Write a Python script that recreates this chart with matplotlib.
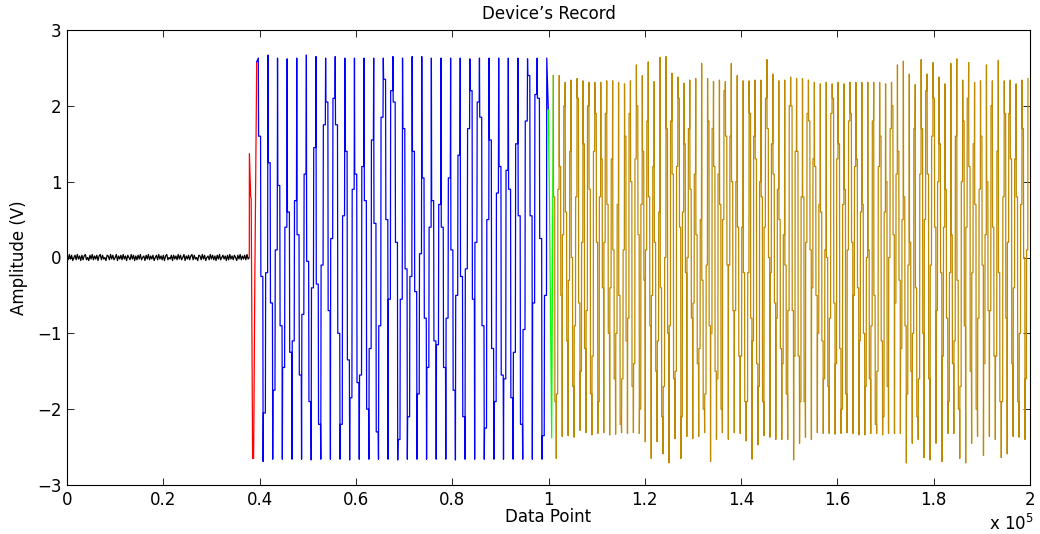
import numpy as np
import matplotlib
matplotlib.use("Agg")
import matplotlib.pyplot as plt
from matplotlib.ticker import FuncFormatter

plt.rcParams['font.family'] = ['DejaVu Sans']
plt.rcParams['font.size'] = 12

# ---- data ----
# quiet part before the device starts (sample index 0 .. 37860)
noise_end = 37860
noise_vals = [0.02, -0.03, 0.04, -0.02, 0.03, -0.04, 0.00, 0.03, -0.03, 0.04,
              -0.02, 0.02, -0.04, 0.03, -0.03, 0.02, 0.04, -0.03, 0.00, -0.04,
              0.03, -0.02, 0.04, -0.03, 0.02, -0.02, 0.03, -0.04, 0.02, 0.04,
              -0.03, 0.03, -0.02, 0.00, -0.04, 0.03, 0.02, -0.03, 0.04, -0.02,
              0.03, -0.03, 0.00, 0.04, -0.04, 0.02, -0.02, 0.03, -0.03, 0.04,
              -0.02, 0.02, -0.04, 0.03, 0.00, -0.03, 0.04, -0.02, 0.03, -0.04,
              0.02, -0.03, 0.03, -0.02, 0.04, -0.03, 0.00, 0.02, -0.04, 0.03,
              -0.02, 0.04, -0.03, 0.02, -0.02, 0.03, -0.04, 0.00, 0.03, -0.03,
              0.04, -0.02, 0.02, -0.03, 0.03, -0.04, 0.02, 0.04, -0.03, 0.00,
              -0.02, 0.03, -0.04, 0.03, -0.02, 0.02, -0.03, 0.04, -0.02, 0.03,
              -0.03, 0.00, 0.04, -0.04, 0.02, -0.02, 0.03, -0.03, 0.02, 0.04,
              -0.03, 0.03, -0.02, 0.00, -0.04, 0.03, 0.02, -0.03, 0.04, -0.02,
              0.03, -0.04, 0.00, 0.02, -0.03, 0.04, -0.02, 0.03, -0.03, 0.02,
              -0.04, 0.03, -0.02, 0.04, -0.03, 0.00, 0.03, -0.02, 0.02, -0.04,
              0.03, -0.03, 0.04, -0.02, 0.02, -0.03, 0.03, 0.00, -0.04, 0.03,
              -0.02, 0.04, -0.03, 0.02, -0.02, 0.03, -0.03, 0.04, -0.02, 0.00]

# start-up transient
red_x = [37860, 37880, 38150, 38250, 38550, 38750, 38850, 39000, 39400]
red_y = [0.0, 1.37, 0.80, 0.78, -2.65, -2.65, -1.85, -0.34, 2.58]

# first tone: 31 peaks, 30 troughs, two kinks per stroke
blue_start = 39730
blue_period = 1997
blue_peaks = [2.63, 2.67, 2.63, 2.62, 2.63, 2.67, 2.65, 2.63, 2.65, 2.63,
              2.63, 2.63, 2.63, 2.63, 2.65, 2.63, 2.65, 2.65, 2.63, 2.63,
              2.63, 2.63, 2.62, 2.63, 2.63, 2.63, 2.63, 2.63, 2.62, 2.63, 2.63]
blue_troughs = [-2.69, -2.66, -2.66, -2.66, -2.66, -2.67, -2.66, -2.66, -2.66, -2.67,
                -2.66, -2.66, -2.66, -2.66, -2.67, -2.66, -2.66, -2.66, -2.66, -2.66,
                -2.67, -2.66, -2.66, -2.66, -2.66, -2.66, -2.66, -2.66, -2.66, -2.66]
blue_kinks_down = [1.6, 1.25, 0.95, 0.6, 0.3, -0.05, -0.35, -0.7, -1.0, -1.35,
                   -1.65, -2.0, -2.3, 2.35, 2.05, 1.7, 1.4, 1.05, 0.75, 0.4,
                   0.1, -0.25, -0.55, -0.9, -1.2, -1.55, -1.85, -2.2, 2.4, 2.1]
blue_kinks_down2 = [-0.25, -0.6, -0.9, -1.25, -1.55, -1.9, -2.2, 2.05, 1.75, 1.4,
                    1.1, 0.75, 0.45, 0.5, 0.2, -0.15, -0.45, -0.8, -1.1, -1.45,
                    -1.75, -2.1, 2.2, 1.85, 1.55, 1.2, 0.9, 0.55, 0.55, 0.25]
blue_kinks_up = [-2.05, -1.75, -1.45, -1.1, -0.75, -0.4, -0.1, 0.25, 0.55, 0.9,
                 1.2, 1.55, 1.85, 2.2, -2.4, -2.1, -1.8, -1.45, -1.15, -0.8,
                 -0.5, -0.15, 0.2, 0.5, 0.85, 1.15, 1.5, 1.8, 2.15, -2.35]
blue_kinks_up2 = [-0.2, 0.1, 0.4, 0.75, 1.1, 1.45, 1.75, 2.1, -2.2, -1.85,
                  -1.55, -1.2, -0.9, -0.55, -0.55, -0.25, 0.05, 0.4, 0.7, 1.05,
                  1.35, 1.7, 2.05, -2.25, -1.9, -1.6, -1.25, -0.95, -0.6, -0.5]

# switch-over
green_x = [99960, 100200, 100660, 101000]
green_y = [1.95, 0.72, -2.38, 2.40]

# second tone: 81 highs, 80 lows
gold_start = 101000
gold_end = 199580
gold_highs = [2.40,
              2.40, 2.31, 2.34, 2.36, 2.33, 2.31, 2.31, 2.31, 2.33, 2.33,
              2.31, 2.29, 2.33, 2.54, 2.40, 2.58, 2.32, 2.64, 2.65, 2.43,
              2.38, 2.30, 2.34, 2.36, 2.56, 2.36, 2.32, 2.34, 2.32, 2.56,
              2.40, 2.33, 2.33, 2.34, 2.34, 2.61, 2.42, 2.33, 2.34,
              2.38, 2.36, 2.36, 2.34, 2.31, 2.29, 2.31, 2.29, 2.31, 2.29,
              2.31, 2.31, 2.31, 2.31, 2.31, 2.31, 2.29, 2.31, 2.54, 2.59,
              2.42, 2.28, 2.61, 2.42, 2.57, 2.38, 2.29, 2.56, 2.62, 2.34,
              2.57, 2.31, 2.33, 2.54, 2.33, 2.60, 2.33, 2.34, 2.29, 2.34, 2.36]
gold_lows = [-2.65, -2.36, -2.35, -2.37, -2.28, -2.31, -2.34, -2.32, -2.31, -2.34,
             -2.33, -2.31, -2.32, -2.31, -2.32, -2.43, -2.65, -2.43, -2.59, -2.71,
             -2.39, -2.65, -2.36, -2.39, -2.36, -2.31, -2.69, -2.40, -2.31, -2.40,
             -2.31, -2.32, -2.42, -2.66, -2.47, -2.35, -2.37, -2.40, -2.40, -2.40,
             -2.67, -2.45, -2.37, -2.40, -2.31, -2.32, -2.32, -2.33, -2.32, -2.31,
             -2.32, -2.34, -2.34, -2.32, -2.32, -2.34, -2.32, -2.32, -2.32, -2.71,
             -2.45, -2.40, -2.64, -2.67, -2.45, -2.69, -2.32, -2.32, -2.65, -2.71,
             -2.45, -2.36, -2.61, -2.36, -2.40, -2.64, -2.59, -2.36, -2.37, -2.40]
gold_kinks_down = [-1.9, 1.2, 0.6, 0.0, -0.6, -1.2, -1.8, 1.9, 1.3, 0.7,
                   0.1, -0.5, -1.1, -1.7, 2.0, 1.4, 0.8, 0.2, -0.4, -1.0,
                   -1.6, 2.1, 1.5, 0.9, 0.3, -0.3, -0.9, -1.5, -2.0, 1.6,
                   1.0, 0.4, -0.2, -0.8, -1.4, -1.9, 1.7, 1.1, 0.5, -0.1,
                   -0.7, -1.3, -1.9, 1.8, 1.2, 0.6, 0.0, -0.6, -1.2, -1.8,
                   1.9, 1.3, 0.7, 0.1, -0.5, -1.1, -1.7, 2.0, 1.4, 0.8,
                   0.2, -0.4, -1.0, -1.6, 2.1, 1.5, 0.9, 0.3, -0.3, -0.9,
                   -1.5, -2.0, 1.6, 1.0, 0.4, -0.2, -0.8, -1.4, -1.9, 1.7]
gold_kinks_down2 = [0.8, -0.5, -1.1, -1.7, 2.1, 1.5, 0.9, 0.2, -0.4, -1.0,
                    -1.6, -2.2, 1.6, 1.0, 0.3, -0.3, -0.9, -1.5, -2.1, 1.7,
                    1.1, 0.4, -0.2, -0.8, -1.4, -2.0, 1.8, 1.2, 0.7, -0.1,
                    -0.7, -1.3, -1.9, 1.9, 1.3, 0.8, 0.0, -0.6, -1.2, -1.8,
                    2.0, 1.4, 0.8, 0.1, -0.5, -1.1, -1.7, 2.1, 1.5, 0.9,
                    0.2, -0.4, -1.0, -1.6, -2.2, 1.6, 1.0, 0.3, -0.3, -0.9,
                    -1.5, -2.1, 1.7, 1.1, 0.4, -0.2, -0.8, -1.4, -2.0, 1.8,
                    1.2, 0.7, -0.1, -0.7, -1.3, -1.9, 1.9, 1.3, 0.8, 0.0]
gold_kinks_up = [0.9, 0.3, -0.3, -0.9, -1.5, 2.0, 1.4, 0.8, 0.2, -0.4,
                 -1.0, -1.6, 1.9, 1.3, 0.7, 0.1, -0.5, -1.1, -1.7, 1.8,
                 1.2, 0.6, 0.0, -0.6, -1.2, -1.8, 1.7, 1.1, 0.5, -0.1,
                 -0.7, -1.3, -1.9, 1.6, 1.0, 0.4, -0.2, -0.8, -1.4, 2.0,
                 1.4, 0.8, 0.2, -0.4, -1.0, -1.6, 1.9, 1.3, 0.7, 0.1,
                 -0.5, -1.1, -1.7, 1.8, 1.2, 0.6, 0.0, -0.6, -1.2, -1.8,
                 1.7, 1.1, 0.5, -0.1, -0.7, -1.3, -1.9, 1.6, 1.0, 0.4,
                 -0.2, -0.8, -1.4, 2.0, 1.4, 0.8, 0.2, -0.4, -1.0, -1.6]
gold_kinks_up2 = [-1.8, 2.0, 1.4, 0.8, 0.2, -0.7, -1.3, -1.9, 1.9, 1.3,
                  0.7, 0.1, -0.8, -1.4, -2.0, 1.8, 1.2, 0.6, 0.0, -0.9,
                  -1.5, -2.1, 1.7, 1.1, 0.5, -0.1, -1.0, -1.6, 2.2, 1.6,
                  1.0, 0.4, -0.2, -1.1, -1.7, 2.1, 1.5, 0.9, 0.3, -0.7,
                  -1.3, -1.9, 1.9, 1.3, 0.7, 0.1, -0.8, -1.4, -2.0, 1.8,
                  1.2, 0.6, 0.0, -0.9, -1.5, -2.1, 1.7, 1.1, 0.5, -0.1,
                  -1.0, -1.6, 2.2, 1.6, 1.0, 0.4, -0.2, -1.1, -1.7, 2.1,
                  1.5, 0.9, 0.3, -0.7, -1.3, -1.9, 1.9, 1.3, 0.7, 0.1]


def interleave(a, b):
    out = []
    for i in range(len(a)):
        out.append(a[i])
        if i < len(b):
            out.append(b[i])
    return out


def stroke_wave(x0, step, extremes, kinks1, kinks2):
    # each stroke between two extremes: near-vertical drops with two short jogs
    xs, ys = [x0], [extremes[0]]
    for i in range(len(extremes) - 1):
        a, b = extremes[i], extremes[i + 1]
        k1, k2 = sorted([kinks1[i], kinks2[i]], reverse=(b < a))
        xa = x0 + i * step
        xs += [xa + 0.06 * step, xa + 0.47 * step, xa + 0.53 * step, xa + 0.94 * step, xa + step]
        ys += [k1, k1, k2, k2, b]
    return xs, ys


noise_x = np.linspace(0, noise_end, len(noise_vals))

blue_ext = interleave(blue_peaks, blue_troughs)
bx, by = stroke_wave(blue_start, blue_period / 2, blue_ext,
                     interleave(blue_kinks_down, blue_kinks_up),
                     interleave(blue_kinks_down2, blue_kinks_up2))
bx = [red_x[-1]] + bx + [green_x[0]]
by = [red_y[-1]] + by + [green_y[0]]

gold_ext = interleave(gold_highs, gold_lows)
gx, gy = stroke_wave(gold_start, (gold_end - gold_start) / (len(gold_ext) - 1), gold_ext,
                     interleave(gold_kinks_down, gold_kinks_up),
                     interleave(gold_kinks_down2, gold_kinks_up2))

fig = plt.figure(figsize=(10.4, 5.34), dpi=100)
ax = fig.add_axes([67 / 1040, 1 - 485 / 534, 963 / 1040, 455 / 534])

lw = 0.9
ax.plot(np.append(noise_x, red_x[0]), np.append(noise_vals, red_y[0]), color='black', lw=lw)
ax.plot(red_x, red_y, color='red', lw=lw)
ax.plot(bx, by, color='blue', lw=lw)
ax.plot(green_x, green_y, color=(0, 1, 0), lw=lw)
ax.plot(gx, gy, color=(0.75, 0.54, 0.0), lw=lw)

ax.set_xlim(0, 200000)
ax.set_ylim(-3, 3)
ax.set_xticks(np.arange(0, 200001, 20000))
ax.set_yticks(np.arange(-3, 4, 1))
ax.xaxis.set_major_formatter(FuncFormatter(lambda v, p: f"{v / 1e5:g}"))
ax.yaxis.set_major_formatter(FuncFormatter(lambda v, p: f"{int(v)}".replace('-', '\u2212')))
ax.tick_params(direction='in', length=5, width=0.6, top=True, right=True, labelsize=12, pad=4)
for s in ax.spines.values():
    s.set_linewidth(0.8)

ax.set_title('Device\u2019s Record', fontsize=12, pad=8)
ax.set_xlabel('Data Point', fontsize=12)
ax.set_ylabel('Amplitude (V)', fontsize=12)
ax.xaxis.set_label_coords(0.5, -(508 - 485) / 455)
ax.yaxis.set_label_coords((28 - 67) / 963, 0.5)
fig.text(1034 / 1040, 1 - 524 / 534, r'x 10$^5$', ha='right', va='center', fontsize=12)

fig.savefig('out.png', dpi=100)
